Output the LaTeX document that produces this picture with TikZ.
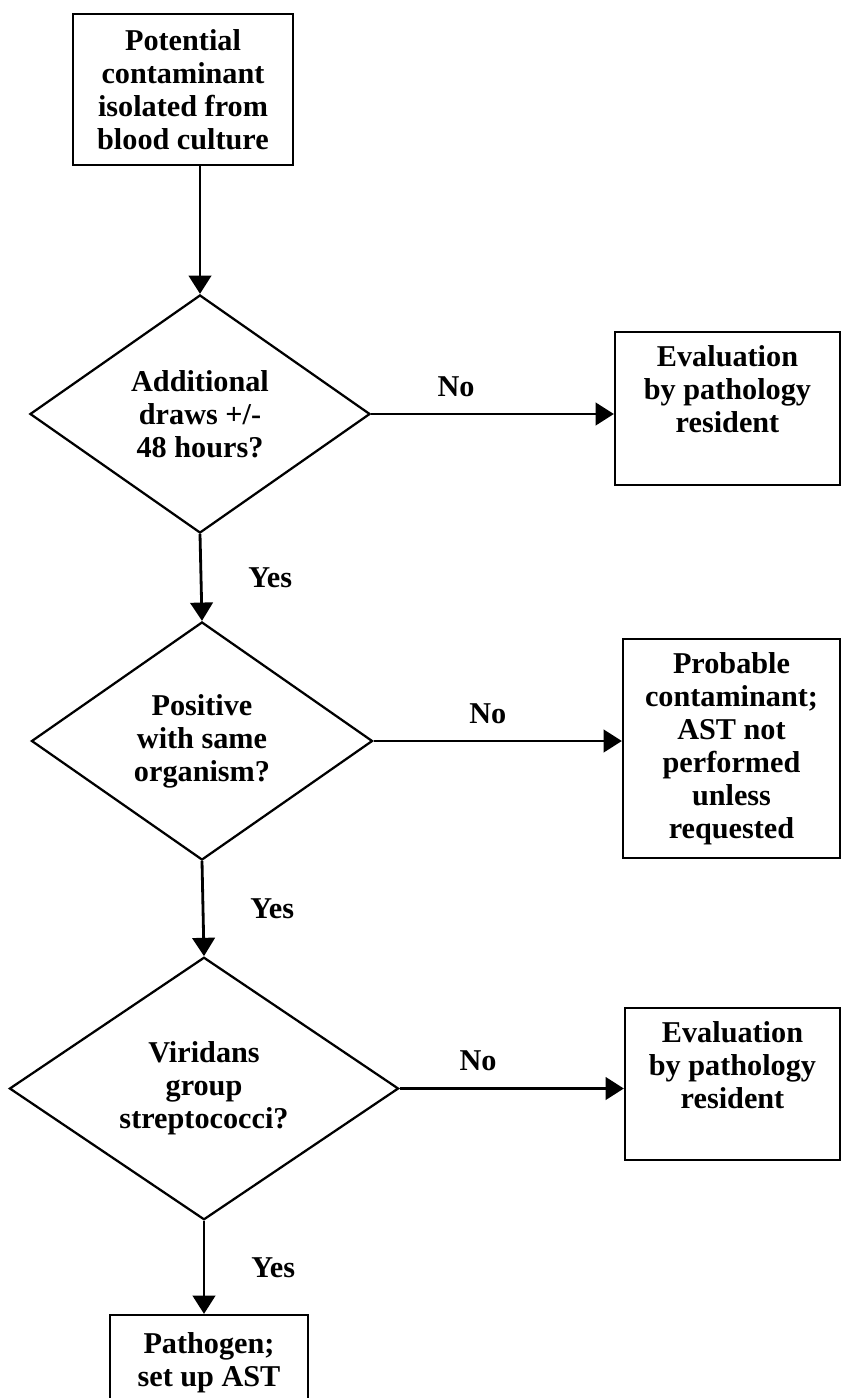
\documentclass[tikz,border=0pt]{standalone}
\usepackage{fontspec}
\setmainfont{Liberation Serif}
\usepackage{tikz}
\usetikzlibrary{arrows.meta,shapes.geometric,positioning}

\newcommand{\flowfont}{\fontsize{21.5}{23.5}\selectfont\bfseries}

\tikzset{
  box/.style={draw, line width=1.6pt, rectangle, inner sep=0pt, align=center, font=\flowfont},
  decision/.style={draw, line width=1.6pt, diamond, inner sep=0pt, align=center, font=\flowfont},
  words/.style={inner sep=0pt, align=center, font=\flowfont},
  link/.style={line width=2pt, -{Triangle[length=13pt,width=16pt]}},
}

\begin{document}
\begin{tikzpicture}[x=0.025cm, y=-0.025cm]
 \useasboundingbox (0,0) rectangle (842,1398);

 % left column
 \node [box, minimum width=5.5cm, minimum height=3.775cm] (start) at (183,89.5) {Potential\\contaminant\\isolated from\\blood culture};
 \node [decision, minimum width=8.5cm, minimum height=5.95cm] (q1) at (200,414) {Additional\\draws +/-\\48 hours?};
 \node [decision, minimum width=8.525cm, minimum height=5.95cm] (q2) at (202,741) {Positive\\with same\\organism?};
 \node [decision, minimum width=9.725cm, minimum height=5.925cm] (q3) at (204,1088.5) {Viridans\\group\\streptococci?};
 \node [box, minimum width=4.95cm, minimum height=2.375cm] (pathogen) at (209,1362.5) {Pathogen;\\set up AST};

 % right column
 \node [box, minimum width=5.625cm, minimum height=3.825cm] (eval1) at (727.5,408.5) {};
 \node [words, below=10pt of eval1.north] (eval1txt) {Evaluation\\by pathology\\resident};
 \node [box, minimum width=5.425cm, minimum height=5.475cm] (probable) at (731.5,748.5) {Probable\\contaminant;\\AST not\\performed\\unless\\requested};
 \node [box, minimum width=5.375cm, minimum height=3.8cm] (eval2) at (732.5,1084) {};
 \node [words, below=10pt of eval2.north] (eval2txt) {Evaluation\\by pathology\\resident};

 % yes
 \draw [link] (q1.north |- start.south) -- (q1.north);
 \draw [link] (q1.south) -- node [words, right=1.15cm] (yes1) {Yes} (q2.north);
 \draw [link] (q2.south) -- node [words, right=1.15cm] (yes2) {Yes} (q3.north);
 \draw [link] (q3.south) -- node [words, right=1.15cm] (yes3) {Yes} (q3.south |- pathogen.north);

 % no
 \draw [link] (q1.east) -- node [words, above=0.4cm, pos=0.35] (no1) {No} (q1.east -| eval1.west);
 \draw [link] (q2.east) -- node [words, above=0.4cm, pos=0.46] (no2) {No} (q2.east -| probable.west);
 \draw [link] (q3.east) -- node [words, above=0.4cm, pos=0.35] (no3) {No} (q3.east -| eval2.west);
\end{tikzpicture}
\end{document}
